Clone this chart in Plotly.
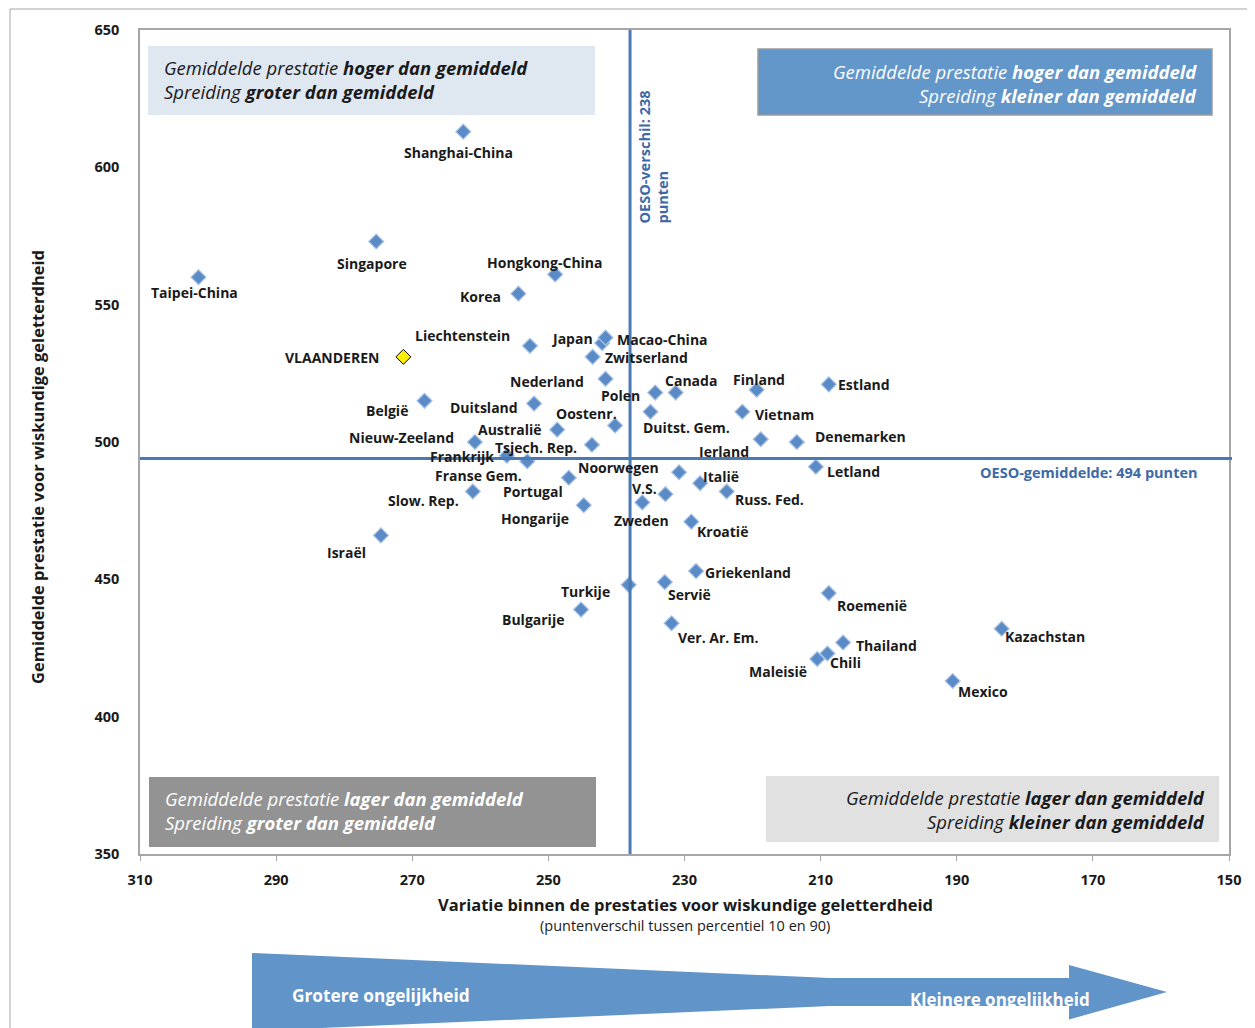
import plotly.graph_objects as go

# ---------------- data ----------------
countries = ["Shanghai-China", "Singapore", "Taipei-China", "Hongkong-China", "Korea",
             "Liechtenstein", "Japan", "Macao-China", "Zwitserland", "Nederland",
             "Estland", "Finland", "Canada", "Polen", "België", "Duitsland", "Vietnam",
             "Duitst. Gem.", "Oostenr.", "Australië", "Ierland", "Denemarken",
             "Nieuw-Zeeland", "Tsjech. Rep.", "Frankrijk", "Franse Gem.", "Letland",
             "Noorwegen", "Portugal", "Italië", "Russ. Fed.", "Slow. Rep.", "V.S.",
             "Zweden", "Hongarije", "Kroatië", "Israël", "Griekenland", "Servië",
             "Turkije", "Roemenië", "Bulgarije", "Ver. Ar. Em.", "Kazachstan",
             "Thailand", "Chili", "Maleisië", "Mexico"]
spread = [262.5, 275.3, 301.4, 249.0, 254.4,
          252.7, 242.1, 241.6, 243.5, 241.6,
          208.8, 219.4, 231.3, 234.3, 268.2, 252.1, 221.5,
          235.0, 240.2, 248.7, 218.8, 213.5,
          260.8, 243.6, 256.1, 253.1, 210.7,
          230.8, 247.0, 227.7, 223.8, 261.1, 232.8,
          236.2, 244.8, 229.0, 274.6, 228.3, 232.9,
          238.2, 208.8, 245.2, 231.9, 183.4,
          206.7, 209.0, 210.5, 190.6]
score = [613, 573, 560, 561, 554,
         535, 536, 538, 531, 523,
         521, 519, 518, 518, 515, 514, 511,
         511, 506, 504.5, 501, 500,
         500, 499, 495, 493, 491,
         489, 487, 485, 482, 482, 481,
         478, 477, 471, 466, 453, 449,
         448, 445, 439, 434, 432,
         427, 423, 421, 413]

flanders_name = ["VLAANDEREN"]
flanders_spread = [271.3]
flanders_score = [531]

oeso_spread = 238
oeso_score = 494

x_ticks = [310, 290, 270, 250, 230, 210, 190, 170, 150]
y_ticks = [350, 400, 450, 500, 550, 600, 650]

# label offsets in pixels (dx right, dy down) relative to the marker
label_offsets = {
    "Shanghai-China": (-5, 21), "Singapore": (-4, 22), "Taipei-China": (-4, 15),
    "Hongkong-China": (-10, -12), "Korea": (-38, 3), "Liechtenstein": (-68, -10),
    "Japan": (-30, -5), "Macao-China": (57, 2), "Zwitserland": (54, 1),
    "Nederland": (-59, 3), "Estland": (35, 0), "Finland": (2, -10),
    "Canada": (15, -12), "Polen": (-35, 3), "België": (-38, 10),
    "Duitsland": (-50, 4), "Vietnam": (42, 3), "Duitst. Gem.": (36, 16),
    "Oostenr.": (-29, -12), "Australië": (-47, 0), "Ierland": (-37, 12),
    "Denemarken": (64, -6), "Nieuw-Zeeland": (-73, -5), "Tsjech. Rep.": (-56, 3),
    "Frankrijk": (-45, 1), "Franse Gem.": (-49, 14), "Letland": (38, 5),
    "Noorwegen": (-61, -5), "Portugal": (-36, 14), "Italië": (21, -7),
    "Russ. Fed.": (43, 8), "Slow. Rep.": (-49, 9), "V.S.": (-21, -6),
    "Zweden": (-1, 18), "Hongarije": (-49, 13), "Kroatië": (31, 10),
    "Israël": (-34, 17), "Griekenland": (52, 1), "Servië": (25, 12),
    "Turkije": (-43, 7), "Roemenië": (43, 12), "Bulgarije": (-48, 10),
    "Ver. Ar. Em.": (47, 14), "Kazachstan": (43, 8), "Thailand": (43, 3),
    "Chili": (18, 9), "Maleisië": (-39, 13), "Mexico": (30, 11),
    "VLAANDEREN": (-71, 1),
}

# ---------------- layout helpers ----------------
OFF = 8  # page body margin of the browser
W, H = 1255 - OFF, 1028 - OFF
L, R, T, B = 140, 1229, 30, 854   # plot area in reference (page) pixels


def px(xp):
    return (xp - L) / (R - L)


def py(yp):
    return (B - yp) / (B - T)


FONT = "Open Sans"
BLUE_LINE = "#4a7ab3"
TXT = "#1a1a1a"

fig = go.Figure()

fig.add_trace(go.Scatter(
    x=spread, y=score, mode="markers",
    marker=dict(symbol="diamond", size=11.5, color="#5b8bc7",
                line=dict(color="#a8c3e3", width=1.2)),
    hoverinfo="text", text=countries, showlegend=False))

fig.add_trace(go.Scatter(
    x=flanders_spread, y=flanders_score, mode="markers",
    marker=dict(symbol="diamond", size=11.5, color="#ffee00",
                line=dict(color="#000000", width=1)),
    hoverinfo="text", text=flanders_name, showlegend=False))

annotations = []
for name, xv, yv in list(zip(countries, spread, score)) + list(zip(flanders_name, flanders_spread, flanders_score)):
    dx, dy = label_offsets[name]
    annotations.append(dict(x=xv, y=yv, xref="x", yref="y", text=name, showarrow=False,
                            xshift=dx, yshift=-dy, xanchor="center", yanchor="middle",
                            font=dict(family=FONT, size=14, color=TXT, weight="bold")))

shapes = []
# outer frame
shapes.append(dict(type="rect", xref="paper", yref="paper", x0=px(10), x1=px(1270),
                   y0=py(1045), y1=py(9), line=dict(color="#a6a6a6", width=1), layer="below"))

# quadrant boxes
boxes = [
    (148, 46, 595, 115, "#dfe7f1", None),
    (758, 49, 1212, 115, "#6396c9", "#9a9a9a"),
    (149, 777, 596, 847, "#939393", None),
    (766, 776, 1219, 842, "#e1e1e1", None),
]
for x0, y0, x1, y1, fc, lc in boxes:
    shapes.append(dict(type="rect", xref="paper", yref="paper", x0=px(x0), x1=px(x1),
                       y0=py(y1), y1=py(y0), fillcolor=fc,
                       line=dict(color=lc if lc else fc, width=1.5 if lc else 0), layer="below"))

# OESO reference lines
shapes.append(dict(type="line", xref="x", yref="paper", x0=oeso_spread, x1=oeso_spread,
                   y0=0, y1=1, line=dict(color=BLUE_LINE, width=3)))
shapes.append(dict(type="line", xref="paper", yref="y", x0=0, x1=px(1232),
                   y0=oeso_score, y1=oeso_score, line=dict(color=BLUE_LINE, width=3)))

# big arrow at the bottom
pts = [(252, 953), (830, 978), (1069, 978), (1069, 965), (1167, 992), (1069, 1019.5),
       (1069, 1006), (830, 1006), (252, 1031)]
path = "M " + " L ".join(f"{px(a):.5f},{py(b):.5f}" for a, b in pts) + " Z"
shapes.append(dict(type="path", xref="paper", yref="paper", path=path,
                   fillcolor="#6194c8", line=dict(width=0)))


def quad_text(xp, yp, text, color, anchor):
    annotations.append(dict(xref="paper", yref="paper", x=px(xp), y=py(yp), text=text,
                            showarrow=False, xanchor=anchor, yanchor="middle",
                            font=dict(family=FONT, size=18.5, color=color)))


quad_text(162, 68, "<i>Gemiddelde prestatie </i><b><i>hoger dan gemiddeld</i></b>", TXT, "left")
quad_text(162, 92, "<i>Spreiding </i><b><i>groter dan gemiddeld</i></b>", TXT, "left")
quad_text(1199, 72, "<i>Gemiddelde prestatie </i><b><i>hoger dan gemiddeld</i></b>", "white", "right")
quad_text(1199, 96, "<i>Spreiding </i><b><i>kleiner dan gemiddeld</i></b>", "white", "right")
quad_text(163, 798, "<i>Gemiddelde prestatie </i><b><i>lager dan gemiddeld</i></b>", "white", "left")
quad_text(163, 822, "<i>Spreiding </i><b><i>groter dan gemiddeld</i></b>", "white", "left")
quad_text(1207, 797, "<i>Gemiddelde prestatie </i><b><i>lager dan gemiddeld</i></b>", TXT, "right")
quad_text(1207, 821, "<i>Spreiding </i><b><i>kleiner dan gemiddeld</i></b>", TXT, "right")

# OESO annotations
annotations.append(dict(xref="paper", yref="paper", x=px(653), y=py(226),
                        text="OESO-verschil: 238<br>punten", showarrow=False, textangle=-90,
                        align="left", xanchor="center", yanchor="bottom",
                        font=dict(family=FONT, size=14.5, color="#3d6aa6", weight="bold")))
annotations.append(dict(xref="paper", yref="paper", x=px(1089), y=py(472),
                        text="OESO-gemiddelde: 494 punten", showarrow=False,
                        xanchor="center", yanchor="middle",
                        font=dict(family=FONT, size=14.5, color="#3d6aa6", weight="bold")))

# axis titles
annotations.append(dict(xref="paper", yref="paper", x=px(38), y=py(467),
                        text="Gemiddelde prestatie voor wiskundige geletterdheid",
                        showarrow=False, textangle=-90, xanchor="center", yanchor="middle",
                        font=dict(family=FONT, size=16.5, color=TXT, weight="bold")))
annotations.append(dict(xref="paper", yref="paper", x=px(685), y=py(904),
                        text="Variatie binnen de prestaties voor wiskundige geletterdheid",
                        showarrow=False, xanchor="center", yanchor="middle",
                        font=dict(family=FONT, size=16.5, color=TXT, weight="bold")))
annotations.append(dict(xref="paper", yref="paper", x=px(685), y=py(925),
                        text="(puntenverschil tussen percentiel 10 en 90)",
                        showarrow=False, xanchor="center", yanchor="middle",
                        font=dict(family=FONT, size=14.5, color=TXT)))

# arrow texts
annotations.append(dict(xref="paper", yref="paper", x=px(290), y=py(995),
                        text="Grotere ongelijkheid", showarrow=False, xanchor="left",
                        yanchor="middle",
                        font=dict(family=FONT, size=17.3, color="white", weight="bold")))
annotations.append(dict(xref="paper", yref="paper", x=px(908), y=py(999),
                        text="Kleinere ongelijkheid", showarrow=False, xanchor="left",
                        yanchor="middle",
                        font=dict(family=FONT, size=17, color="white", weight="bold")))

fig.update_layout(
    width=W, height=H,
    margin=dict(l=L - OFF, r=(1255 - R), t=T - OFF, b=(1028 - B)),
    paper_bgcolor="white", plot_bgcolor="white",
    shapes=shapes, annotations=annotations,
    xaxis=dict(range=[310, 150], tickvals=x_ticks, ticktext=[str(v) for v in x_ticks],
               showgrid=False, zeroline=False, showline=True, mirror=True,
               linecolor="#a6a6a6", linewidth=1.5, ticks="outside", ticklen=5,
               tickcolor="#a6a6a6", ticklabelstandoff=7,
               tickfont=dict(family=FONT, size=14.5, color=TXT, weight="bold")),
    yaxis=dict(range=[350, 650], tickvals=y_ticks, ticktext=[str(v) for v in y_ticks],
               showgrid=False, zeroline=False, showline=True, mirror=True,
               linecolor="#a6a6a6", linewidth=1.5, ticks="", ticklabelstandoff=16,
               tickfont=dict(family=FONT, size=14.5, color=TXT, weight="bold")),
)

fig.write_html("out.html")
